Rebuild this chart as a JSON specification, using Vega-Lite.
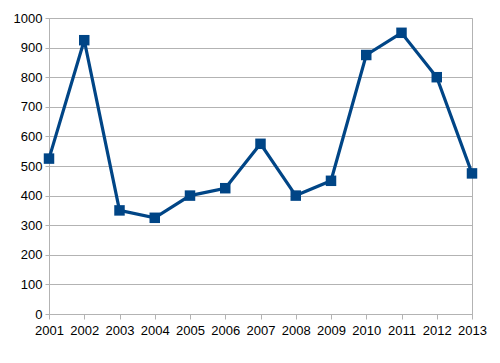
{
  "$schema": "https://vega.github.io/schema/vega-lite/v6.json",
  "autosize": {"type": "none"},
  "width": 423,
  "height": 296,
  "padding": {"left": 49, "top": 18, "right": 28, "bottom": 49},
  "background": "white",
  "config": {
    "view": {"stroke": "#b3b3b3", "strokeWidth": 1},
    "axis": {
      "labelFont": "Liberation Sans",
      "labelFontSize": 13,
      "labelColor": "#000000",
      "gridColor": "#b3b3b3",
      "domainColor": "#b3b3b3",
      "tickColor": "#b3b3b3",
      "title": null
    }
  },
  "data": {
    "values": [
      {"year": 2001, "value": 525},
      {"year": 2002, "value": 925},
      {"year": 2003, "value": 350},
      {"year": 2004, "value": 325},
      {"year": 2005, "value": 400},
      {"year": 2006, "value": 425},
      {"year": 2007, "value": 575},
      {"year": 2008, "value": 400},
      {"year": 2009, "value": 450},
      {"year": 2010, "value": 875},
      {"year": 2011, "value": 950},
      {"year": 2012, "value": 800},
      {"year": 2013, "value": 475}
    ]
  },
  "encoding": {
    "x": {
      "field": "year",
      "type": "quantitative",
      "scale": {"domain": [2001, 2013], "nice": false, "zero": false},
      "axis": {
        "values": [2001, 2002, 2003, 2004, 2005, 2006, 2007, 2008, 2009, 2010, 2011, 2012, 2013],
        "format": "d",
        "grid": false,
        "tickSize": 5,
        "labelPadding": 5,
        "labelFlush": false
      }
    },
    "y": {
      "field": "value",
      "type": "quantitative",
      "scale": {"domain": [0, 1000], "nice": false},
      "axis": {
        "values": [0, 100, 200, 300, 400, 500, 600, 700, 800, 900, 1000],
        "format": "d",
        "grid": true,
        "tickSize": 4,
        "labelPadding": 3
      }
    }
  },
  "layer": [
    {"mark": {"type": "line", "color": "#004586", "strokeWidth": 3.2}},
    {"mark": {"type": "square", "color": "#004586", "opacity": 1, "filled": true, "size": 110}}
  ]
}
